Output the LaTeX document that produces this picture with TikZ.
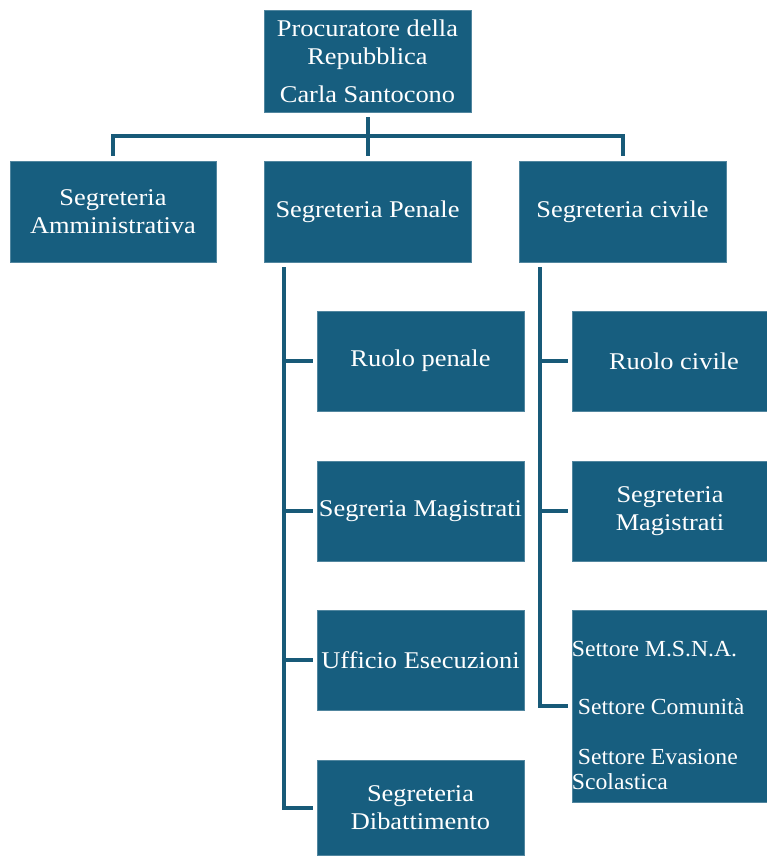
\documentclass[tikz,border=0pt]{standalone}
\usepackage{fontspec}
\setmainfont{Liberation Serif}
\newfontfamily\boxfont[FakeStretch=1.1]{Liberation Serif}
\newfontfamily\setfont[FakeStretch=1.03]{Liberation Serif}
\definecolor{boxblue}{HTML}{175E7F}
\definecolor{linkblue}{HTML}{185A78}
\begin{document}
\begin{tikzpicture}[x=1pt,y=-1pt,
  box/.style={rectangle, fill=boxblue, draw=boxblue!75!white, line width=0.6pt,
    text=white, inner sep=0pt, align=center,
    font=\boxfont\fontsize{24}{28}\selectfont},
  conn/.style={draw=linkblue, line width=4pt, line join=miter},
  settext/.style={text=white, inner sep=0pt, anchor=base west,
    font=\setfont\fontsize{23}{27}\selectfont}]
\useasboundingbox (0,0) rectangle (766,856);
% top
\node[box, minimum width=207pt, minimum height=102pt] (top) at (367.5,61)
  {Procuratore della\\Repubblica\\[10pt]Carla Santocono};
% second row
\node[box, minimum width=206pt, minimum height=101pt] (amm) at (113,211.5)
  {Segreteria\\Amministrativa};
\node[box, minimum width=207pt, minimum height=101pt] (pen) at (367.5,211.5)
  {\raisebox{-2pt}{Segreteria Penale}};
\node[box, minimum width=207pt, minimum height=101pt] (civ) at (622.5,211.5)
  {\raisebox{-2pt}{Segreteria civile}};
% penale children
\node[box, minimum width=207pt, minimum height=100pt] (rp) at (420.5,361)
  {\raisebox{-2pt}{Ruolo penale}};
\node[box, minimum width=207pt, minimum height=100pt] (sm) at (420.5,511)
  {\raisebox{-2pt}{Segreria Magistrati}};
\node[box, minimum width=207pt, minimum height=100pt] (ue) at (420.5,660)
  {\raisebox{-2pt}{Ufficio Esecuzioni}};
\node[box, minimum width=207pt, minimum height=95pt] (sd) at (420.5,807.5)
  {Segreteria\\Dibattimento};
% civile children
\node[box, minimum width=196pt, minimum height=100pt] (rc) at (670,361)
  {\raisebox{-2pt}{\hspace*{8pt}Ruolo civile}};
\node[box, minimum width=196pt, minimum height=100pt] (smc) at (670,511)
  {Segreteria\\Magistrati};
\node[box, minimum width=196pt, minimum height=192pt] (set) at (670,706) {};
\node[settext] (s1) at ([yshift=-47pt]set.north west) {Settore M.S.N.A.};
\node[settext] (s2) at ([xshift=6pt,yshift=-105pt]set.north west) {Settore Comunità};
\node[settext] (s3) at ([xshift=6pt,yshift=-155pt]set.north west) {Settore Evasione};
\node[settext] (s4) at ([yshift=-180pt]set.north west) {Scolastica};
% connectors top
\draw[conn] ([yshift=-5pt]top.south) -- ([yshift=5pt]pen.north);
\draw[conn] ([yshift=5pt]amm.north) -- ++(0,-20) -| ([yshift=5pt]civ.north);
% penale tree
\draw[conn] ([xshift=20pt,yshift=-5pt]pen.south west) |- ([xshift=-4pt]sd.west);
\draw[conn] ([xshift=-4pt]rp.west) -- ++(-31,0);
\draw[conn] ([xshift=-4pt]sm.west) -- ++(-31,0);
\draw[conn] ([xshift=-4pt]ue.west) -- ++(-31,0);
% civile tree
\draw[conn] ([xshift=21pt,yshift=-5pt]civ.south west) |- ([xshift=-4pt]set.west);
\draw[conn] ([xshift=-4pt]rc.west) -- ++(-30,0);
\draw[conn] ([xshift=-4pt]smc.west) -- ++(-30,0);
\end{tikzpicture}
\end{document}
